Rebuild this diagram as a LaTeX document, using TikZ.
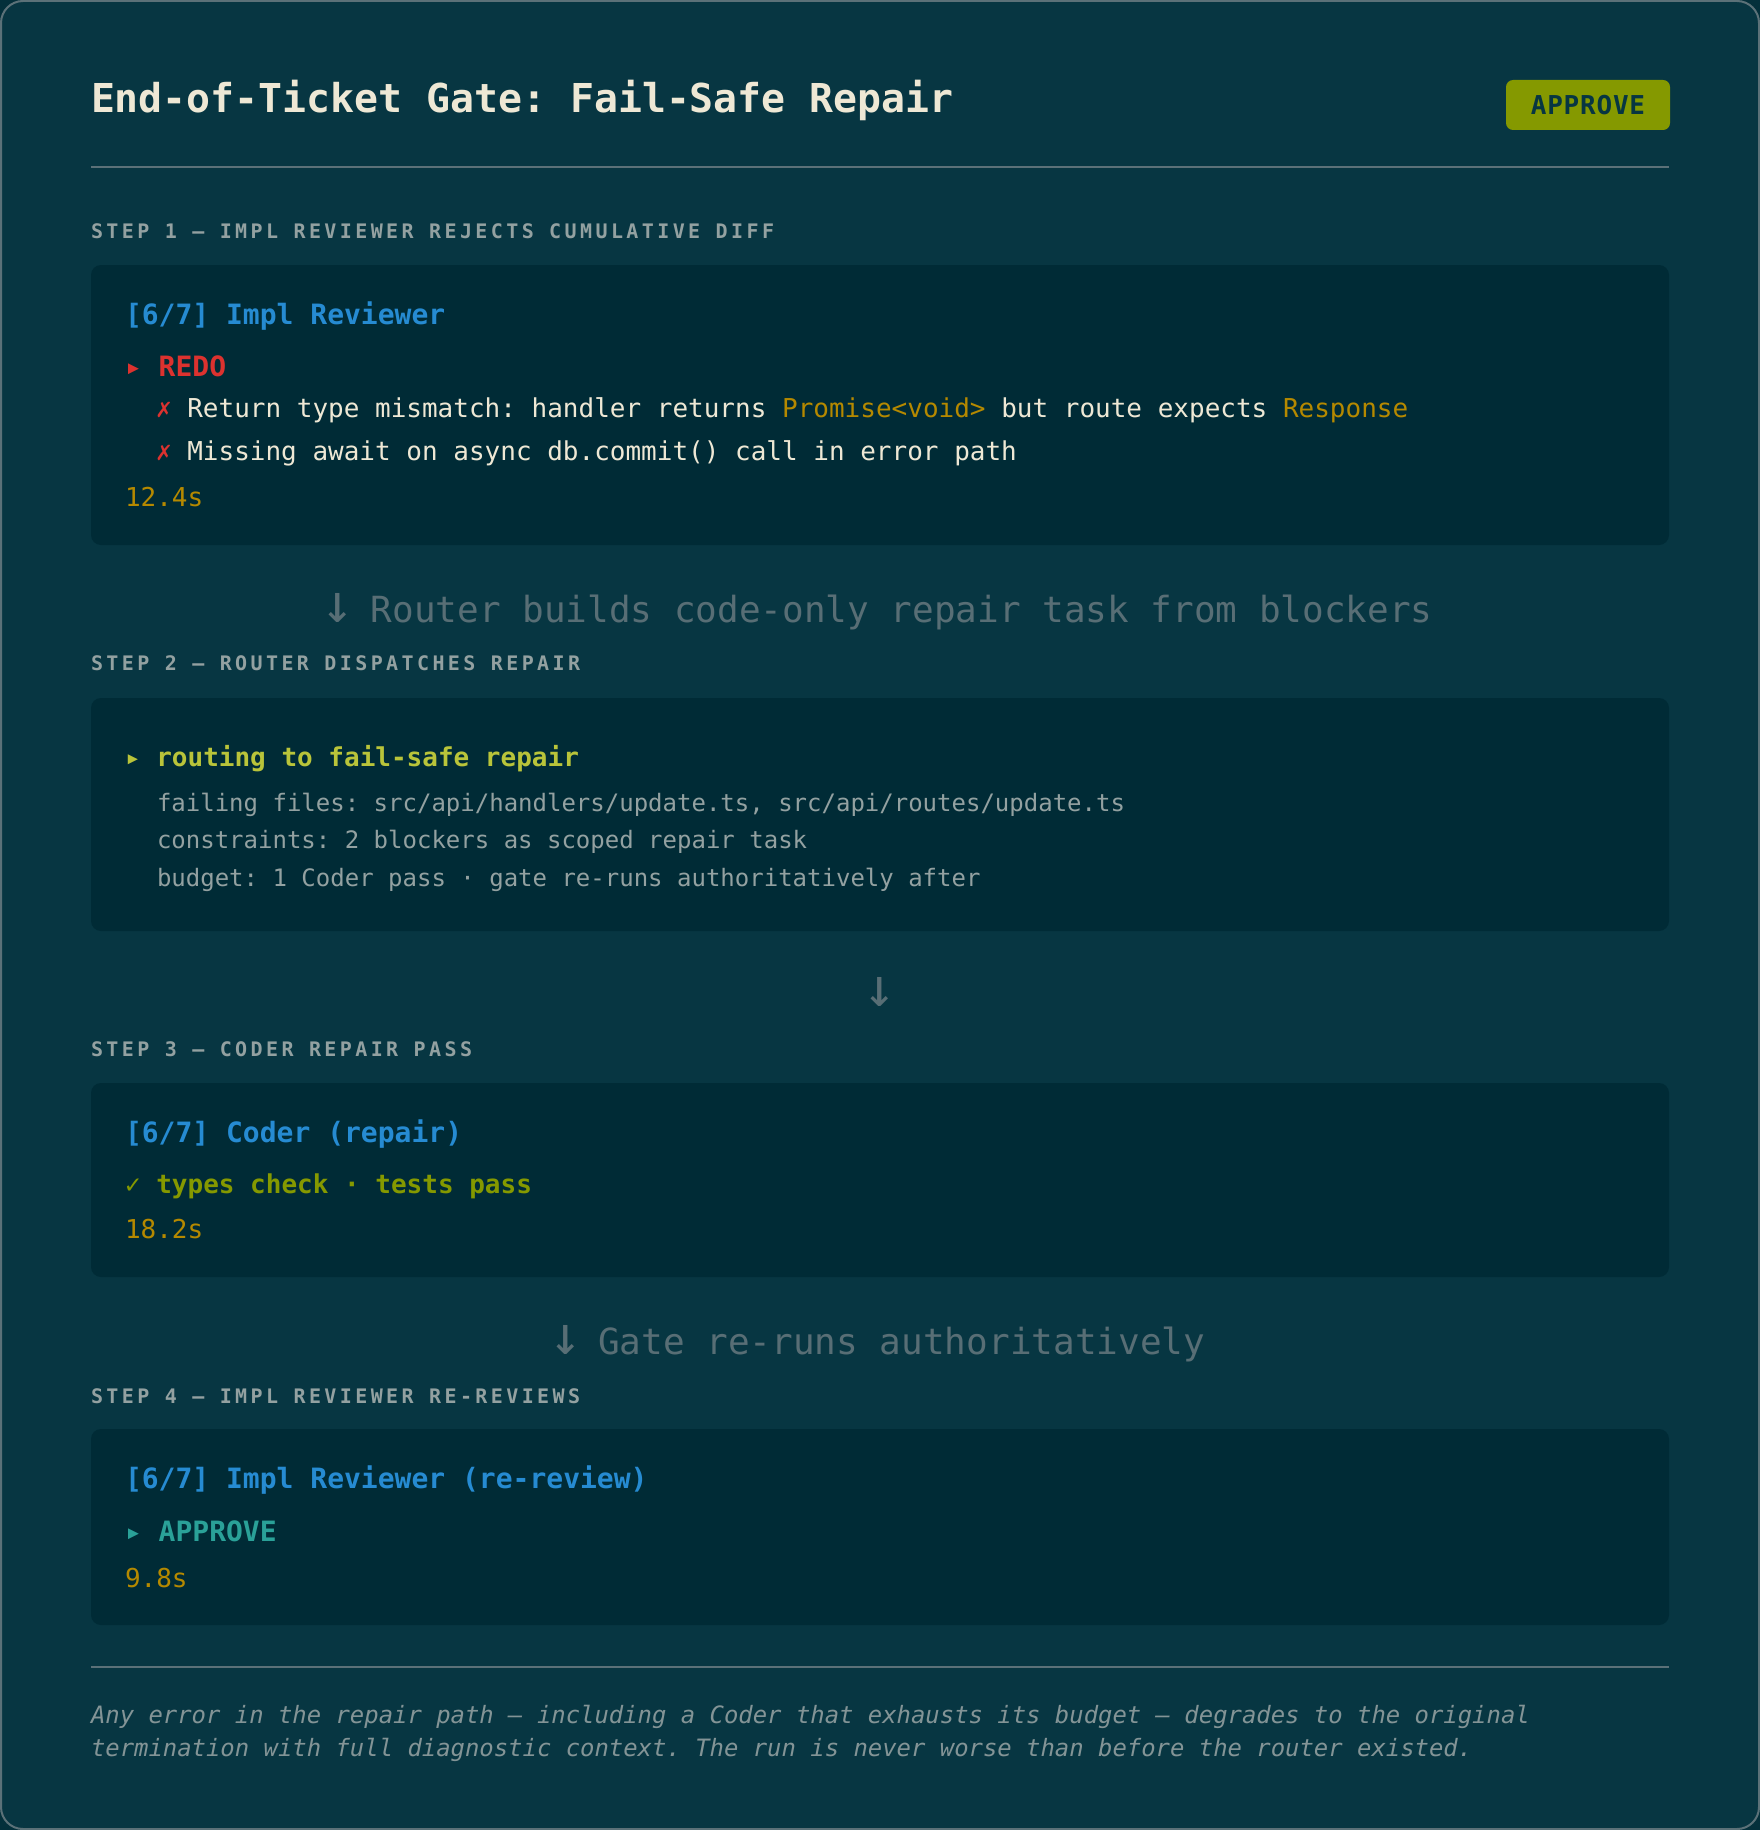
\documentclass[tikz,border=0pt]{standalone}
\usepackage{fontspec}
\setmainfont{DejaVu Sans Mono}
\newfontfamily\spacedfont{DejaVu Sans Mono}[LetterSpace=17]
\newfontfamily\badgefont{DejaVu Sans Mono}[LetterSpace=3]
\newcommand\setfs[1]{\fontsize{#1}{#1}\selectfont}
\newcommand\bigdown{\makebox[21.67pt][c]{\fontsize{54}{54}\selectfont ↓}}
\AtBeginDocument{\frenchspacing}
\definecolor{outerbg}{HTML}{04303B}
\definecolor{bg}{HTML}{073642}
\definecolor{cardbg}{HTML}{002B36}
\definecolor{bordercol}{HTML}{5B7178}
\definecolor{base2}{HTML}{EEE8D5}
\definecolor{base1}{HTML}{93A1A1}
\definecolor{base0}{HTML}{839496}
\definecolor{muted}{HTML}{586E75}
\definecolor{sblue}{HTML}{268BD2}
\definecolor{sred}{HTML}{DC322F}
\definecolor{syellow}{HTML}{B58900}
\definecolor{sgreen}{HTML}{859900}
\definecolor{slime}{HTML}{B9C43A}
\definecolor{scyan}{HTML}{2AA198}
\tikzset{
  txt/.style={anchor=base west, inner sep=0pt, outer sep=0pt},
  ctxt/.style={anchor=base, inner sep=0pt, outer sep=0pt},
  card/.style={fill=cardbg, rounded corners=10pt},
  sepline/.style={draw=bordercol, line width=2pt},
  steplabel/.style={txt, text=base1, font=\spacedfont\bfseries\setfs{20}},
  heading/.style={txt, text=sblue, font=\bfseries\setfs{28}},
  verdict/.style={txt, font=\bfseries\setfs{28}},
  body/.style={txt, text=base2, font=\setfs{26}},
  timing/.style={txt, text=syellow, font=\setfs{26}},
  detail/.style={txt, text=base1, font=\setfs{24}},
  flowtext/.style={ctxt, text=muted, font=\setfs{36}},
  foot/.style={txt, text=base0, font=\itshape\setfs{23.9}},
}
\begin{document}
\begin{tikzpicture}[x=1pt,y=-1pt]
\useasboundingbox (0,0) rectangle (1760,1830);
\fill[outerbg] (0,0) rectangle (1760,1830);
\draw[draw=bordercol, line width=2pt, fill=bg, rounded corners=22pt] (1,1) rectangle (1759,1829);

% header
\node[txt, text=base2, font=\bfseries\setfs{39.8}] (title) at (91,113) {End-of-Ticket Gate: Fail-Safe Repair};
\node[fill=sgreen, rounded corners=7pt, minimum width=164pt, minimum height=50pt,
      text height=19.5pt, text depth=0pt, inner sep=0pt, text=bg,
      font=\badgefont\bfseries\setfs{26}] (badge) at (1588,105) {APPROVE};
\draw[sepline] (91,167) -- (1669,167);

% step 1
\node[steplabel] (s1) at (91,238) {STEP 1 — IMPL REVIEWER REJECTS CUMULATIVE DIFF};
\fill[card] (91,265) rectangle (1669,545);
\node[heading] (h1) at (125,324) {[6/7] Impl Reviewer};
\node[verdict, text=sred] (v1) at (125,376) {▸ REDO};
\node[body] (e1) at (156,417) {\textcolor{sred}{✗} Return type mismatch: handler returns \textcolor{syellow}{Promise<void>} but route expects \textcolor{syellow}{Response}};
\node[body] (e2) at (156,460) {\textcolor{sred}{✗} Missing await on async db.commit() call in error path};
\node[timing] (t1) at (125,506) {12.4s};

\node[flowtext] (a1) at (880,622) {\bigdown{} Router builds code-only repair task from blockers};

% step 2
\node[steplabel] (s2) at (91,670) {STEP 2 — ROUTER DISPATCHES REPAIR};
\fill[card] (91,698) rectangle (1669,931);
\node[verdict, text=slime, font=\bfseries\setfs{26}] (r2) at (125,766) {▸ routing to fail-safe repair};
\node[detail] (f2) at (157,811) {failing files: src/api/handlers/update.ts, src/api/routes/update.ts};
\node[detail] (c2) at (157,848) {constraints: 2 blockers as scoped repair task};
\node[detail] (b2) at (157,886) {budget: 1 Coder pass · gate re-runs authoritatively after};

\node[flowtext] (a2) at (880,1006) {\bigdown};

% step 3
\node[steplabel] (s3) at (91,1056) {STEP 3 — CODER REPAIR PASS};
\fill[card] (91,1083) rectangle (1669,1277);
\node[heading] (h3) at (125,1142) {[6/7] Coder (repair)};
\node[verdict, text=sgreen, font=\bfseries\setfs{26}] (c3) at (125,1193) {✓ types check · tests pass};
\node[timing] (t3) at (125,1238) {18.2s};

\node[flowtext] (a3) at (880,1354) {\bigdown{} Gate re-runs authoritatively};

% step 4
\node[steplabel] (s4) at (91,1403) {STEP 4 — IMPL REVIEWER RE-REVIEWS};
\fill[card] (91,1429) rectangle (1669,1625);
\node[heading] (h4) at (125,1488) {[6/7] Impl Reviewer (re-review)};
\node[verdict, text=scyan] (v4) at (125,1541) {▸ APPROVE};
\node[timing] (t4) at (125,1587) {9.8s};

% footer
\draw[sepline] (91,1667) -- (1669,1667);
\node[foot] (n1) at (91,1723) {Any error in the repair path — including a Coder that exhausts its budget — degrades to the original};
\node[foot] (n2) at (91,1756) {termination with full diagnostic context. The run is never worse than before the router existed.};
\end{tikzpicture}
\end{document}
